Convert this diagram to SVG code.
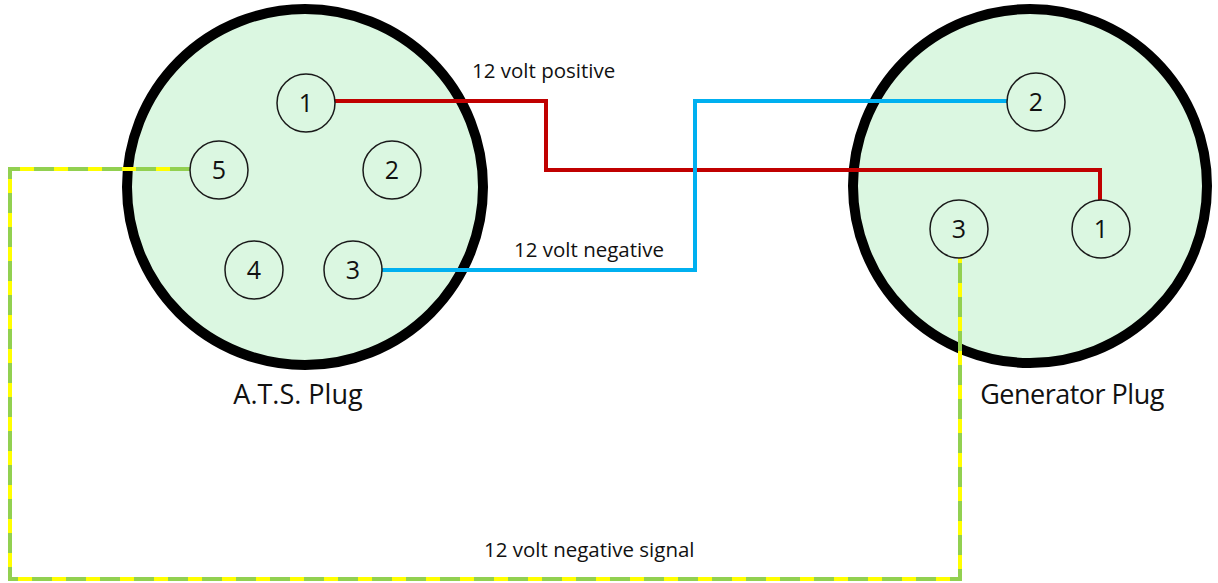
<svg xmlns="http://www.w3.org/2000/svg" width="1218" height="583" viewBox="0 0 1218 583">
<style>
.plug{fill:#DBF7E1;stroke:#000;stroke-width:10}
.pin{fill:#DBF7E1;stroke:#1a1a1a;stroke-width:1.5}
.pn{font-family:"Open Sans","Liberation Sans",sans-serif;font-size:25px;fill:#111;text-anchor:middle}
.lbl{font-family:"Open Sans","Liberation Sans",sans-serif;font-size:20.5px;fill:#111}
.title{font-family:"Open Sans","Liberation Sans",sans-serif;font-size:27px;fill:#111;text-anchor:middle}
.w{fill:none;stroke-width:4}
</style>
<rect width="1218" height="583" fill="#fff"/>
<g id="ats-plug">
<circle class="plug" cx="305" cy="187" r="178"/>
<text class="title" x="298" y="404">A.T.S. Plug</text>
</g>
<g id="generator-plug">
<circle class="plug" cx="1030" cy="186" r="177"/>
<text class="title" x="1072" y="404" letter-spacing="-0.5">Generator Plug</text>
</g>
<g id="connectors">
<polyline class="w" stroke="#C00000" points="335,101 546,101 546,170 1100,170 1100,201"/>
<polyline class="w" stroke="#00B0F0" points="382,270 695,270 695,101 1008,101"/>
<polyline class="w" stroke="#FFFF00" points="190,169 10,169 10,579 960,579 960,258"/>
<polyline class="w" stroke="#92D050" stroke-dasharray="20 14" points="190,169 10,169 10,579 960,579 960,258"/>
<text class="lbl" x="472" y="78">12 volt positive</text>
<text class="lbl" x="514" y="257">12 volt negative</text>
<text class="lbl" x="484" y="557">12 volt negative signal</text>
</g>
<g id="ats-pin-1"><circle class="pin" cx="306" cy="103" r="29"/><text class="pn" x="306" y="112">1</text></g>
<g id="ats-pin-5"><circle class="pin" cx="219" cy="170" r="29"/><text class="pn" x="219" y="179">5</text></g>
<g id="ats-pin-2"><circle class="pin" cx="392" cy="170" r="29"/><text class="pn" x="392" y="179">2</text></g>
<g id="ats-pin-4"><circle class="pin" cx="254" cy="270" r="29"/><text class="pn" x="254" y="279">4</text></g>
<g id="ats-pin-3"><circle class="pin" cx="353" cy="270" r="29"/><text class="pn" x="353" y="279">3</text></g>
<g id="gen-pin-2"><circle class="pin" cx="1036" cy="102" r="29"/><text class="pn" x="1036" y="111">2</text></g>
<g id="gen-pin-3"><circle class="pin" cx="959" cy="229" r="29"/><text class="pn" x="959" y="238">3</text></g>
<g id="gen-pin-1"><circle class="pin" cx="1101" cy="229" r="29"/><text class="pn" x="1101" y="238">1</text></g>
</svg>
